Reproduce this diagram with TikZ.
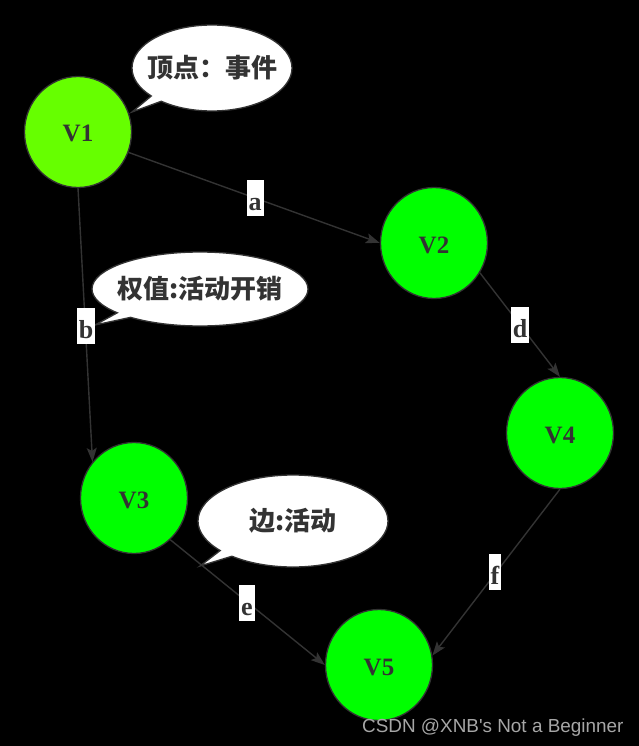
\documentclass[tikz,border=0pt]{standalone}
\usepackage{fontspec}
\setmainfont{Liberation Serif}
\newfontfamily\cjk{Noto Sans CJK SC}
\newfontfamily\wm{Liberation Sans}
\usetikzlibrary{shapes.geometric,shapes.callouts,arrows.meta}
\definecolor{ink}{HTML}{333333}
\definecolor{lime}{HTML}{66FF00}
\definecolor{vgreen}{HTML}{00FF00}
\tikzset{
  vertex/.style={ellipse,draw=ink,line width=1.3pt,fill=vgreen,minimum width=107pt,minimum height=111pt,inner sep=0pt,text=ink,text height=20pt,text depth=0pt,font=\fontsize{25}{25}\selectfont\bfseries},
  edgelab/.style={fill=white,text=ink,inner xsep=2pt,inner ysep=0pt,minimum height=36pt,text height=24pt,text depth=0pt,font=\fontsize{26}{26}\selectfont\bfseries},
  conn/.style={draw=ink,line width=1.4pt,-{Stealth[length=14pt,width=10pt,inset=3pt]}},
  bubble/.style={ellipse callout,draw=ink,line width=1.3pt,fill=white,text=ink,inner xsep=-40pt,inner ysep=-15pt,font=\cjk\fontsize{26}{26}\selectfont\bfseries,callout pointer arc=10}
}
\begin{document}
\begin{tikzpicture}[x=1pt,y=-1pt]
\fill[black] (0,0) rectangle (639,746);
\useasboundingbox (0,0) rectangle (639,746);
\node[vertex,fill=lime] (v1) at (78,132) {V1};
\node[vertex] (v2) at (434,243) {V2};
\node[vertex] (v3) at (134,498) {V3};
\node[vertex] (v4) at (560,433) {V4};
\node[vertex] (v5) at (379,665) {V5};
\coordinate (t1) at (132,112);
\coordinate (t2) at (95,325);
\coordinate (t3) at (200,566);
\node[bubble,minimum width=160pt,minimum height=86pt,callout absolute pointer={(t1)}] (c1) at (212,68) {顶点：事件};
\node[bubble,minimum width=216pt,minimum height=74pt,callout absolute pointer={(t2)}] (c2) at (200,289) {权值:活动开销};
\node[bubble,minimum width=190pt,minimum height=92pt,callout absolute pointer={(t3)}] (c3) at (293,521) {边:活动};
\draw[conn] (v1.-22) -- (v2.west);
\draw[conn] (v1.south) -- (v3.139);
\draw[conn] (v2.-33) -- (v4.north);
\draw[conn] (v4.south) -- (v5.10);
\draw[conn] (v3.-49) -- (v5.west);
\node[edgelab] (la) at (255,198) {a};
\node[edgelab] (lb) at (86,326) {b};
\node[edgelab] (ld) at (520,325) {d};
\node[edgelab] (lf) at (495,572) {f};
\node[edgelab] (le) at (247,603) {e};
\node[anchor=base west,text=gray!70,inner sep=0pt,font=\wm\fontsize{18.9}{18.9}\selectfont] (wm) at (362,732) {CSDN @XNB's Not a Beginner};
\end{tikzpicture}
\end{document}
